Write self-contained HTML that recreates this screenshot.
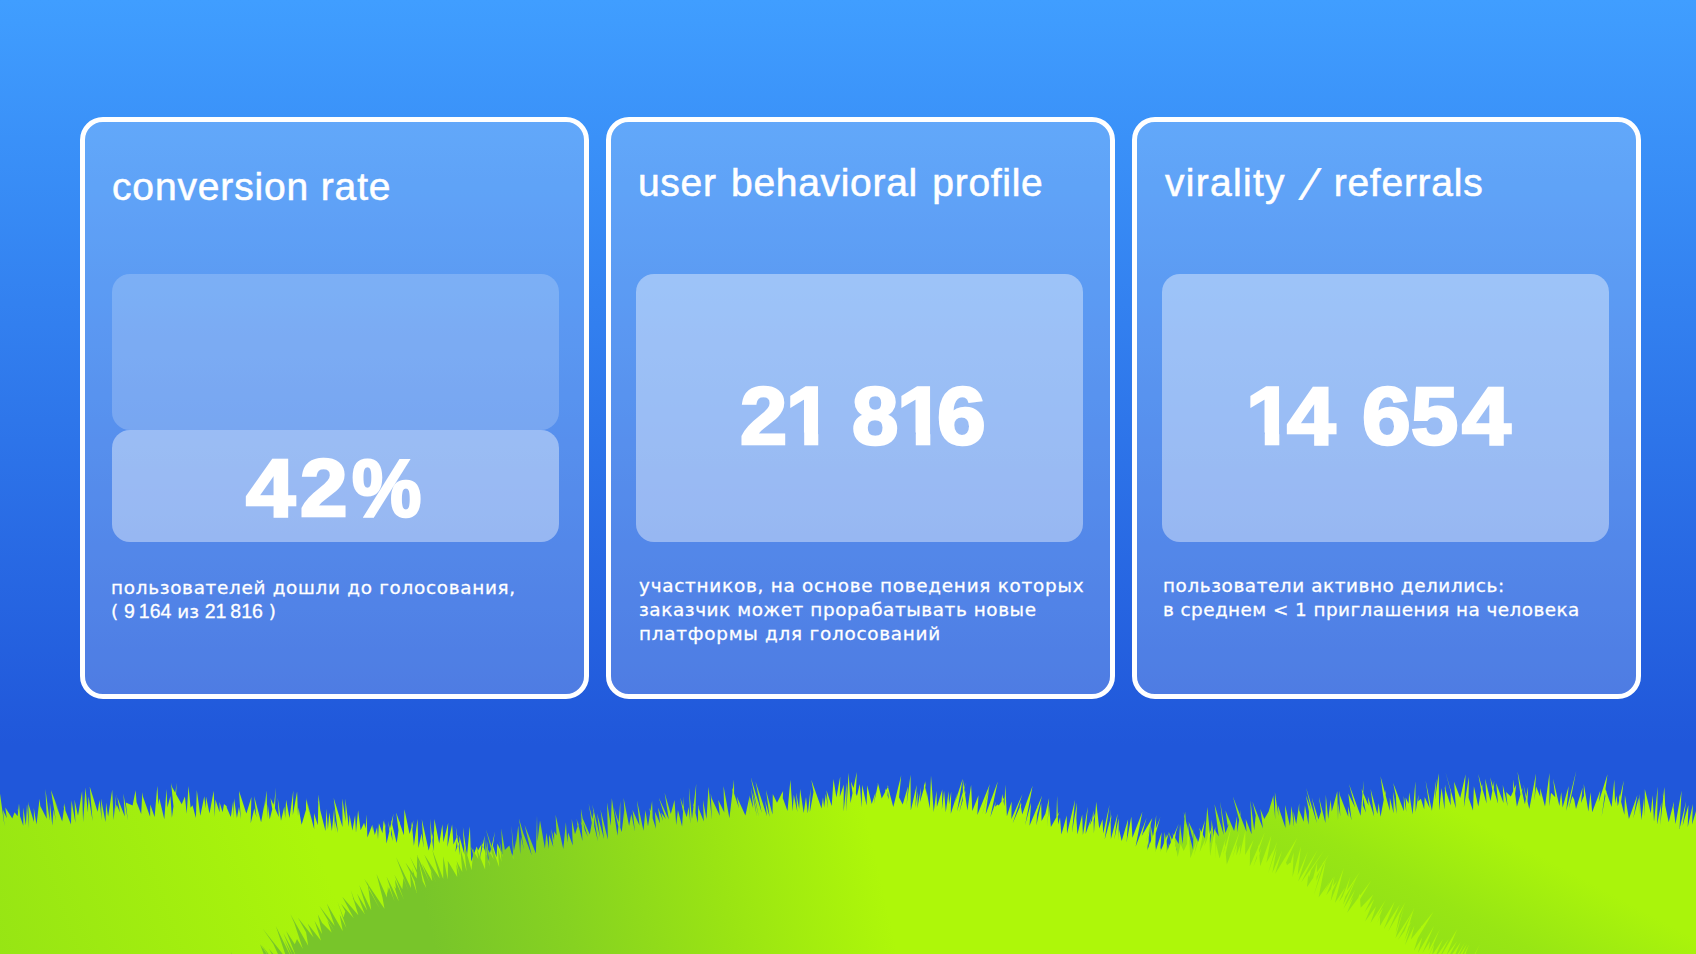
<!DOCTYPE html>
<html lang="ru">
<head>
<meta charset="utf-8">
<title>metrics</title>
<style>
html,body{margin:0;padding:0;}
body{width:1696px;height:954px;overflow:hidden;position:relative;
  background:linear-gradient(180deg,#409EFF 0px,#2057DA 745px,#2057DA 954px);
  font-family:"Liberation Sans",sans-serif;color:#fff;}
.card{position:absolute;top:117px;width:499px;height:572px;border:5px solid #fff;border-radius:23px;
  background:rgba(255,255,255,0.2);background-clip:padding-box;}
#c1{left:80px;} #c2{left:606px;} #c3{left:1132px;}
.title{position:absolute;white-space:nowrap;font-size:39px;line-height:40px;-webkit-text-stroke:0.55px #fff;}
.title .sl{display:inline-block;transform:translateY(3px) skewX(-20deg) scaleY(1.08);transform-origin:50% 70%;margin:0 5px 0 -2px;-webkit-text-stroke:0.9px #fff;}
.box{position:absolute;left:20px;top:152px;width:447px;height:268px;border-radius:18px;background:rgba(255,255,255,0.4);}
.num{position:absolute;left:0;top:0;width:447px;white-space:nowrap;font-weight:bold;font-size:78.5px;line-height:80px;
  -webkit-text-stroke:2.6px #fff;}
.num .g{position:absolute;display:block;transform-origin:0 0;}
.num .one{clip-path:polygon(0 0,30.6px 0,30.6px 80px,17.2px 80px,17.2px 56px,0 56px);}
.desc{position:absolute;white-space:nowrap;font-family:"DejaVu Sans","Liberation Sans",sans-serif;font-size:18.4px;line-height:24px;-webkit-text-stroke:0.3px #fff;}
.desc span{display:block;}
.desc .dg{display:inline;line-height:0;font-family:"Liberation Sans",sans-serif;font-size:19.5px;}
.grass{position:absolute;left:0;top:0;}
</style>
</head>
<body>
<div class="card" id="c1">
  <div class="title" style="left:27px;top:45px;letter-spacing:0.85px;">conversion rate</div>
  <div class="box" style="left:27px;height:156px;background:rgba(255,255,255,0.2);"></div>
  <div class="box" style="left:27px;top:308px;height:112px;">
    <div class="num"><span class="g" style="left:134.1px;top:16.6px;transform:scale(1.129,1.029);">4</span><span class="g" style="left:187.5px;top:16.6px;transform:scale(1.088,1.029);">2</span><span class="g" style="left:240.2px;top:16.6px;transform:scale(0.993,1.029);">%</span></div>
  </div>
  <div class="desc" style="left:26px;top:454.4px;"><span style="letter-spacing:0.7px;">пользователей дошли до голосования,</span><span style="word-spacing:0px;">( <span class="dg">9&#8201;164</span> из <span class="dg">21&#8201;816</span> )</span></div>
</div>
<div class="card" id="c2">
  <div class="title" style="left:27px;top:41px;letter-spacing:0.68px;word-spacing:3px;">user behavioral profile</div>
  <div class="box" style="left:25px;">
    <div class="num"><span class="g" style="left:103.5px;top:100.7px;transform:scale(1.080,1.029);">2</span><span class="g one" style="left:150.0px;top:100.7px;transform:scale(1.057,1.029);">1</span> <span class="g" style="left:215.8px;top:100.7px;transform:scale(1.062,1.029);">8</span><span class="g one" style="left:261.2px;top:100.7px;transform:scale(1.091,1.029);">1</span><span class="g" style="left:301.4px;top:100.7px;transform:scale(1.115,1.029);">6</span></div>
  </div>
  <div class="desc" style="left:28px;top:452px;"><span style="letter-spacing:0.747px;">участников, на основе поведения которых</span><span style="letter-spacing:0.585px;">заказчик может прорабатывать новые</span><span style="letter-spacing:0.746px;">платформы для голосований</span></div>
</div>
<div class="card" id="c3">
  <div class="title" style="left:28px;top:41px;letter-spacing:0.75px;word-spacing:5px;"><span style="letter-spacing:1.3px;">virality</span> <span class="sl">/</span> referrals</div>
  <div class="box" style="left:25px;">
    <div class="num"><span class="g one" style="left:84.3px;top:100.7px;transform:scale(1.091,1.029);">1</span><span class="g" style="left:125.1px;top:100.7px;transform:scale(1.111,1.029);">4</span> <span class="g" style="left:200.4px;top:100.7px;transform:scale(1.115,1.029);">6</span><span class="g" style="left:249.4px;top:100.7px;transform:scale(1.081,1.029);">5</span><span class="g" style="left:300.1px;top:100.7px;transform:scale(1.118,1.029);">4</span></div>
  </div>
  <div class="desc" style="left:26px;top:452px;"><span style="letter-spacing:0.583px;">пользователи активно делились:</span><span style="letter-spacing:0.436px;">в среднем &lt; 1 приглашения на человека</span></div>
</div>
<svg class="grass" width="1696" height="954" viewBox="0 0 1696 954">
<defs>
<linearGradient id="g1" gradientUnits="userSpaceOnUse" x1="0" y1="954" x2="420" y2="800"><stop offset="0" stop-color="#97E514"/><stop offset="0.75" stop-color="#ACF60A"/></linearGradient>
<linearGradient id="g2" gradientUnits="userSpaceOnUse" x1="430" y1="930" x2="870" y2="830"><stop offset="0" stop-color="#78C52A"/><stop offset="0.3" stop-color="#86D221"/><stop offset="0.65" stop-color="#9AE413"/><stop offset="1" stop-color="#AEF709"/></linearGradient>
<linearGradient id="g3" gradientUnits="userSpaceOnUse" x1="1315" y1="915" x2="1390" y2="775"><stop offset="0" stop-color="#90DF19"/><stop offset="0.45" stop-color="#98E614"/><stop offset="1" stop-color="#AAF40B"/></linearGradient>
</defs>
<polygon fill="url(#g1)" points="-20.0,832.0 -23.7,805.1 -16.2,832.3 -17.2,805.4 -14.0,829.8 -25.1,799.2 -12.5,826.0 -16.1,813.1 -7.9,826.7 -8.5,816.6 -4.1,831.5 -5.6,800.3 -1.0,827.1 -0.1,792.9 4.5,826.1 3.0,810.0 6.8,818.3 5.3,807.6 12.3,818.4 14.6,812.2 17.6,816.2 19.0,803.6 20.8,824.5 17.4,808.5 23.3,825.7 23.2,807.5 25.9,825.2 27.0,804.0 29.0,828.2 28.2,801.4 31.8,828.6 28.4,803.7 34.0,821.9 33.8,808.1 36.5,824.4 39.6,798.8 41.8,821.7 39.5,804.5 46.8,818.7 45.4,789.0 49.7,820.6 49.9,802.3 52.3,825.5 53.5,809.6 56.0,820.9 50.9,790.0 59.2,811.7 54.5,800.8 62.2,821.4 64.8,803.1 65.7,814.7 63.2,805.0 71.0,824.4 71.5,800.3 75.4,822.8 74.5,799.6 78.0,815.7 82.1,791.0 83.1,821.9 85.5,787.4 87.7,812.4 88.5,796.4 92.6,820.9 89.7,786.6 97.6,811.8 99.5,799.9 101.7,820.1 101.0,798.4 105.5,822.1 106.1,802.4 108.1,816.7 112.2,789.8 113.6,819.9 116.2,793.9 115.7,809.1 116.7,804.7 120.0,812.6 117.3,797.3 124.8,816.5 123.4,793.6 127.8,820.3 125.8,802.5 132.6,805.5 135.6,790.2 137.6,814.9 135.8,800.3 141.2,814.1 142.3,792.2 145.4,812.2 143.0,796.7 150.1,816.7 150.3,804.6 154.6,816.9 157.3,785.8 158.5,804.8 159.3,798.2 164.3,819.3 166.5,789.1 167.4,807.6 170.4,795.9 171.9,817.8 176.7,782.7 174.7,818.3 171.0,782.5 177.8,815.8 170.9,785.1 181.7,804.2 184.9,796.5 186.7,813.8 188.5,786.0 190.6,807.7 192.5,805.3 195.9,818.0 196.8,790.0 200.3,815.7 204.3,796.2 205.6,808.4 206.0,796.4 209.5,813.5 213.7,790.7 214.8,817.1 215.4,799.5 219.6,812.3 219.5,802.0 222.6,812.3 224.0,804.0 226.7,806.3 226.7,807.6 230.8,816.9 233.2,801.1 234.0,818.4 234.0,798.2 236.9,818.0 239.0,806.8 240.8,819.1 239.0,791.0 246.4,813.4 251.4,797.1 250.7,823.3 254.3,808.5 256.5,817.6 254.1,796.1 261.1,822.2 265.0,800.7 264.5,809.6 266.5,790.4 267.4,818.5 267.8,804.5 269.7,819.3 274.2,801.6 273.4,810.4 275.9,787.7 274.3,822.1 270.5,797.9 278.8,817.1 277.7,797.8 281.0,820.8 284.3,806.6 285.2,818.0 286.1,799.7 289.5,818.1 293.3,790.5 292.8,815.3 297.1,791.6 298.0,815.9 298.5,807.6 301.6,824.7 306.3,808.8 305.8,825.1 306.1,799.3 311.0,819.6 305.7,796.3 314.2,829.2 314.0,813.1 317.8,825.2 318.5,794.5 321.4,820.5 317.7,800.3 325.5,831.0 326.4,808.8 327.9,829.5 329.3,812.4 331.9,830.9 334.1,808.7 335.1,832.3 335.0,820.8 338.0,833.0 333.7,798.1 342.5,827.0 342.4,798.5 345.7,821.8 345.3,798.4 348.8,827.0 349.5,814.6 352.4,830.5 355.1,815.2 356.0,832.7 358.1,810.3 360.6,830.2 364.1,822.7 365.6,828.5 366.6,814.6 367.4,837.4 372.3,824.7 373.2,831.9 373.0,826.8 374.8,835.0 377.1,827.2 378.0,839.3 378.9,823.2 382.5,833.3 383.6,820.5 385.7,828.8 384.4,818.5 386.5,843.5 393.5,813.6 390.4,839.8 388.1,820.9 392.6,841.0 391.0,819.4 396.7,843.1 400.0,820.0 399.7,839.9 396.2,812.5 403.9,835.2 404.4,809.3 409.6,834.1 413.4,820.3 410.9,843.6 411.6,821.6 413.9,845.7 417.5,819.1 418.4,848.0 421.6,833.5 423.7,847.7 421.8,819.2 428.7,850.4 433.6,830.7 431.2,849.8 430.1,818.7 433.5,851.3 434.4,819.1 439.2,843.4 442.4,824.2 443.4,842.2 448.2,822.7 447.4,847.0 452.1,824.4 453.5,844.6 457.7,834.8 455.4,852.0 459.6,839.8 457.9,853.6 455.8,826.6 460.0,855.2 459.3,835.7 464.4,854.5 462.9,826.9 467.0,855.7 469.7,826.8 471.3,849.4 469.7,825.1 471.2,861.6 476.7,846.5 478.0,850.4 481.5,844.2 479.9,858.7 484.7,835.5 483.4,853.7 481.7,842.1 486.1,853.7 487.4,841.1 487.4,864.7 495.0,831.4 490.3,861.9 493.0,846.0 496.5,857.3 497.4,843.5 502.6,855.0 503.1,846.8 503.2,870.0 505.3,854.8 506.4,870.2 509.0,851.6 508.9,872.9 512.9,853.3 518.1,861.4 521.0,857.0 522.1,862.6 522.7,851.8 522.8,873.1 523.4,857.4 529.0,866.1 528.6,849.5 534.7,866.2 535.1,859.6 533.3,877.4 535.0,862.3 538.7,877.3 540.4,862.7 539.5,881.4 540.0,960.0 -20.0,960.0"/>
<polygon fill="url(#g3)" points="1120.0,872.0 1113.1,837.3 1123.6,867.7 1124.2,838.3 1128.2,870.5 1125.7,844.7 1129.6,868.3 1126.8,834.7 1134.1,869.6 1130.3,838.0 1138.9,867.6 1139.8,836.8 1144.7,867.3 1141.5,850.2 1148.2,864.2 1141.5,825.9 1151.8,865.0 1145.8,825.4 1152.5,859.5 1149.9,822.4 1158.8,861.5 1155.9,837.1 1157.3,847.9 1158.7,845.7 1163.1,852.3 1164.6,832.1 1169.0,856.2 1168.7,843.5 1173.2,853.3 1168.7,831.7 1176.9,851.6 1172.4,833.0 1178.7,844.0 1180.0,824.3 1182.6,843.9 1185.1,811.5 1188.2,848.3 1183.7,812.0 1193.1,850.1 1193.4,827.6 1192.7,839.1 1188.4,821.4 1199.5,844.7 1200.0,828.6 1202.8,842.2 1199.0,827.6 1204.9,838.5 1207.3,807.0 1210.9,843.5 1211.6,819.4 1214.4,841.0 1214.2,828.9 1218.8,836.4 1214.5,804.2 1223.8,835.0 1220.1,801.6 1225.5,833.0 1229.0,823.4 1227.7,826.0 1225.4,810.6 1234.1,831.1 1237.0,816.4 1237.2,832.2 1240.8,809.8 1239.9,822.8 1232.9,796.4 1246.5,831.7 1245.7,819.0 1251.6,834.2 1250.4,800.3 1254.2,830.2 1256.1,811.9 1260.3,834.0 1252.4,801.4 1263.0,828.5 1260.4,808.9 1264.3,819.1 1268.7,811.5 1267.0,817.0 1273.5,795.3 1272.3,826.2 1273.4,796.8 1275.2,819.5 1274.9,792.1 1278.5,816.1 1277.8,804.9 1285.5,828.1 1285.1,805.1 1290.0,826.0 1291.5,806.0 1294.1,827.4 1293.5,811.5 1296.2,824.0 1299.2,803.3 1299.2,824.2 1298.9,809.4 1303.7,821.8 1304.9,805.2 1308.5,824.7 1309.1,808.0 1309.8,815.9 1305.8,795.3 1311.1,809.7 1306.2,787.9 1316.9,822.9 1311.8,797.8 1318.5,819.5 1322.0,808.5 1321.4,813.9 1318.9,796.8 1325.4,823.1 1325.8,794.7 1328.2,819.1 1330.6,799.8 1331.8,811.5 1337.3,791.3 1338.0,820.7 1338.3,803.1 1340.3,816.4 1339.2,790.5 1342.6,811.1 1340.0,795.4 1348.3,816.7 1347.9,806.0 1351.6,820.4 1348.3,793.4 1355.1,807.4 1349.0,783.9 1360.6,815.8 1363.6,780.4 1362.7,813.3 1361.5,802.1 1366.0,812.8 1361.6,789.0 1368.5,805.4 1367.8,796.3 1374.2,816.8 1370.6,788.9 1377.4,813.9 1378.6,803.0 1380.5,816.8 1385.6,789.9 1385.9,815.4 1380.5,776.3 1389.8,810.8 1389.8,797.4 1393.6,813.2 1393.2,791.4 1396.7,814.1 1395.8,792.4 1399.5,813.2 1393.2,782.9 1403.9,811.2 1403.8,795.9 1406.2,811.7 1405.7,797.5 1408.6,803.7 1409.1,792.2 1412.6,814.5 1415.4,781.2 1415.6,811.9 1418.5,794.6 1418.2,801.3 1420.9,798.8 1424.2,809.3 1424.7,797.0 1429.6,808.1 1425.6,780.5 1431.9,810.8 1436.4,778.6 1435.0,799.7 1438.7,773.2 1439.1,810.6 1441.6,787.9 1444.5,809.4 1445.1,784.6 1447.7,807.0 1444.5,786.6 1450.7,805.5 1450.6,788.7 1452.8,799.7 1445.6,772.5 1455.9,808.3 1454.1,781.8 1460.2,798.1 1465.6,774.2 1463.9,807.3 1468.9,776.8 1468.4,806.8 1467.1,793.5 1473.0,810.6 1473.9,786.2 1478.3,806.5 1482.2,784.0 1483.6,803.8 1478.2,773.9 1486.6,803.6 1485.2,778.7 1490.5,801.0 1494.2,780.4 1493.4,797.3 1490.2,777.2 1498.1,803.8 1496.1,783.0 1503.5,803.1 1502.8,785.1 1507.6,806.3 1506.1,792.0 1510.8,796.4 1516.3,784.3 1513.2,809.0 1513.2,779.6 1516.9,806.8 1522.4,787.7 1521.3,801.9 1517.5,771.4 1524.9,804.2 1528.1,786.6 1527.3,806.7 1523.3,784.0 1529.3,808.9 1536.0,773.6 1534.4,800.5 1536.1,786.5 1540.2,796.7 1540.2,788.3 1545.0,806.5 1549.5,772.9 1549.4,806.2 1551.0,792.7 1555.3,797.3 1553.1,778.8 1559.4,805.9 1561.2,792.1 1562.6,807.4 1568.7,786.1 1566.3,810.8 1576.2,770.9 1568.8,808.6 1572.4,796.0 1574.2,799.7 1571.2,784.1 1576.0,809.0 1582.6,787.4 1581.0,802.9 1585.3,792.4 1584.1,810.3 1583.8,784.1 1588.4,811.6 1590.5,792.2 1592.2,812.2 1600.3,790.4 1598.7,802.3 1607.5,774.3 1601.7,816.2 1606.5,789.9 1606.7,807.4 1604.0,784.9 1611.6,807.1 1614.3,779.5 1615.1,803.5 1616.5,795.5 1617.8,806.2 1623.8,780.5 1619.0,817.9 1619.1,794.0 1624.4,814.8 1624.9,795.0 1628.9,819.0 1637.4,794.9 1633.3,818.2 1638.7,797.8 1639.1,814.8 1639.2,793.7 1641.5,820.0 1644.0,797.9 1644.8,816.5 1644.8,789.0 1650.8,813.2 1652.6,794.9 1654.0,821.8 1657.7,786.5 1657.1,824.6 1661.4,802.3 1660.3,824.8 1664.3,787.1 1665.6,813.6 1662.6,792.9 1668.7,822.2 1674.0,801.5 1672.3,822.7 1673.1,803.8 1675.5,824.1 1681.6,790.5 1679.5,829.0 1686.2,801.0 1682.6,825.8 1688.4,805.0 1687.7,827.2 1692.9,803.9 1692.1,824.5 1698.2,803.5 1697.5,826.0 1702.3,803.2 1697.7,834.3 1700.9,815.7 1704.2,820.2 1709.2,800.8 1703.2,834.4 1707.9,812.5 1707.6,835.9 1711.7,812.3 1713.4,835.1 1718.2,801.1 1715.7,835.9 1717.2,815.7 1720.8,825.9 1720.8,824.6 1719.9,836.2 1720.0,960.0 1120.0,960.0"/>
<polygon fill="url(#g2)" points="215.0,1005.0 204.8,985.8 215.1,995.7 213.0,974.6 220.7,998.0 210.6,969.3 224.8,999.7 220.1,980.6 227.7,1000.5 218.1,983.4 229.8,999.7 221.2,971.3 226.7,988.8 212.5,962.1 228.6,984.7 221.4,968.6 236.8,991.5 228.3,972.3 238.5,990.0 228.9,971.7 240.2,987.5 234.6,972.7 238.6,976.1 231.1,952.1 247.9,983.2 236.4,956.4 253.2,983.7 246.2,970.6 249.3,973.3 250.0,965.4 260.2,981.2 252.3,954.8 258.7,969.4 255.1,956.9 266.1,977.0 259.5,956.5 266.3,969.2 263.2,947.1 265.7,959.6 260.0,944.2 275.9,966.7 261.1,944.4 279.4,967.8 268.9,948.8 283.6,966.2 272.6,942.5 286.6,963.4 262.8,928.7 287.0,959.4 275.8,925.9 292.2,959.5 284.0,939.2 292.7,955.7 283.3,933.1 295.7,955.8 286.2,931.0 294.8,944.2 297.0,938.9 302.9,949.0 292.8,918.4 306.1,950.1 290.3,914.1 308.2,945.8 305.4,927.7 313.9,946.3 297.8,917.4 313.6,937.5 307.6,923.4 321.1,940.8 314.5,920.7 322.1,934.1 317.8,914.2 329.8,938.4 321.2,922.1 331.6,932.5 327.3,920.3 334.4,931.1 319.4,905.9 334.8,926.0 326.8,903.5 342.8,931.2 339.6,914.6 346.4,928.0 337.1,900.8 343.5,917.5 345.7,909.9 352.9,925.4 341.1,903.7 353.8,918.2 342.3,896.8 358.4,915.2 350.7,890.1 358.7,911.3 352.5,897.6 364.7,914.0 357.0,893.5 367.2,910.6 359.2,885.1 371.2,910.2 367.4,880.7 372.4,905.5 368.2,888.1 379.9,908.9 364.1,878.4 384.5,908.8 380.4,886.2 383.6,902.1 376.5,873.9 386.9,897.4 387.2,884.0 387.4,893.7 388.9,887.0 394.5,901.3 386.5,876.4 398.9,901.5 394.2,886.3 396.1,889.1 394.9,879.5 403.8,899.3 394.3,874.6 402.3,889.3 403.4,878.1 408.9,892.1 396.0,857.1 411.1,888.3 409.9,871.9 416.8,893.1 412.1,867.7 419.9,892.0 405.4,862.6 416.7,878.6 417.3,854.5 424.7,890.9 409.8,856.6 426.3,888.3 417.0,854.9 429.7,882.8 421.8,863.3 432.3,881.2 430.8,870.8 436.5,883.5 424.2,854.6 439.7,878.5 431.9,848.7 443.2,879.1 443.2,856.2 447.7,879.5 448.1,861.8 448.0,865.5 447.7,860.8 457.2,877.1 456.4,864.0 459.6,875.8 456.6,861.1 462.3,872.1 460.3,847.9 466.6,871.6 463.7,842.5 471.6,870.2 473.4,848.0 474.4,859.2 471.0,847.0 478.3,858.9 476.3,847.6 485.1,869.5 485.3,838.9 487.7,866.6 485.5,850.3 489.8,866.6 485.9,838.9 489.2,856.3 486.2,846.2 493.6,859.3 485.9,829.4 499.2,867.2 497.7,847.2 501.5,861.9 499.6,840.7 502.7,857.2 501.2,828.3 504.9,850.1 509.3,845.4 513.3,859.0 511.4,825.4 513.9,850.9 516.3,838.9 515.4,847.7 518.3,825.5 520.2,853.9 520.9,836.6 523.9,849.8 518.9,818.2 529.0,853.1 523.0,832.6 531.8,855.4 524.5,824.8 535.9,853.4 537.0,815.3 537.5,841.5 540.0,820.4 544.9,848.5 546.4,832.8 549.0,849.0 549.0,834.6 553.3,846.9 551.2,828.7 554.1,840.4 554.2,831.3 556.6,835.6 555.6,814.8 563.3,849.0 565.9,822.3 567.3,842.8 568.1,832.6 572.8,845.4 571.7,818.9 575.0,834.2 579.0,822.2 577.9,830.3 576.6,818.4 582.5,841.1 580.9,808.4 586.8,841.6 580.4,821.1 588.0,837.1 580.8,814.2 589.8,834.4 594.0,809.7 594.3,837.9 588.6,803.6 597.9,841.3 592.3,804.5 600.1,837.6 597.0,813.3 604.1,839.3 600.5,809.4 607.9,839.4 607.1,802.4 610.8,825.7 611.8,798.2 617.5,835.8 620.3,801.1 620.3,835.7 614.0,807.6 621.7,832.0 624.2,810.6 625.6,833.8 623.6,798.0 629.1,826.0 631.3,813.9 635.0,831.7 632.6,809.9 639.5,825.6 637.0,800.6 643.5,830.7 645.4,810.3 648.0,826.4 652.1,801.1 653.1,831.2 649.3,807.6 656.0,828.8 654.9,811.4 660.1,823.4 658.0,807.4 663.1,821.1 661.2,812.6 665.8,819.1 658.7,797.4 668.8,819.6 664.6,792.7 670.8,814.1 674.5,799.9 676.2,824.9 677.9,809.9 682.1,826.6 684.0,796.1 683.9,816.0 680.2,797.4 686.7,817.2 688.6,806.9 690.4,823.7 688.9,787.0 692.0,818.9 696.2,783.8 695.3,818.9 692.8,802.0 697.9,822.8 698.1,804.4 700.7,820.1 697.8,806.1 703.8,821.4 703.0,799.9 706.5,819.1 708.5,786.7 711.8,819.8 710.8,793.4 715.3,819.7 711.2,797.3 719.8,815.7 718.3,800.0 724.3,812.6 723.5,786.0 729.4,818.3 734.0,779.5 734.3,815.6 732.2,787.8 739.1,808.4 736.8,796.5 745.4,815.4 749.8,795.3 750.0,817.6 750.0,797.3 753.2,808.3 751.1,787.8 756.8,816.0 753.0,792.1 758.9,816.7 750.8,777.2 761.8,812.9 755.5,781.4 767.0,816.2 765.1,800.3 769.6,817.1 766.0,790.1 772.5,814.4 772.8,794.1 777.0,802.7 783.1,790.9 782.3,811.3 781.1,793.3 787.5,811.0 790.4,779.8 792.6,811.2 793.8,794.7 797.3,811.9 796.1,792.6 799.2,809.1 800.1,789.1 803.7,813.1 806.0,796.9 807.8,813.5 810.6,788.6 809.8,812.5 813.7,790.7 814.3,808.1 813.4,791.4 816.3,807.2 811.3,779.7 821.5,808.5 823.0,797.3 824.1,807.5 825.8,793.9 828.1,808.8 826.5,790.2 831.7,805.9 833.5,779.0 836.4,797.6 840.2,776.4 839.8,796.7 843.8,784.5 843.6,811.7 846.7,782.3 846.3,811.9 848.6,772.7 850.5,803.1 856.8,772.0 855.0,811.4 850.9,781.6 856.9,796.1 859.8,783.9 861.6,807.5 862.2,784.7 866.6,805.6 867.2,785.2 871.7,804.1 875.6,792.3 873.7,804.5 877.9,784.4 878.2,802.5 877.8,782.6 881.7,798.6 888.3,785.9 886.3,808.2 885.0,788.2 888.9,799.5 887.3,784.5 893.3,807.1 901.2,775.3 898.3,804.8 898.4,795.9 902.7,804.6 908.0,786.6 906.6,805.1 910.5,774.8 910.8,810.4 916.7,785.0 915.3,807.9 917.8,791.1 917.4,808.3 921.1,787.1 919.9,802.2 926.1,780.8 922.4,811.4 924.2,782.2 927.1,796.6 926.2,788.8 929.8,808.4 931.0,775.4 933.7,812.0 936.5,790.7 936.9,806.9 942.3,789.5 941.9,809.5 944.1,790.7 945.8,812.3 948.6,791.3 949.0,804.4 951.2,791.4 950.8,813.7 957.7,792.0 954.7,803.6 962.8,778.5 957.0,811.5 965.8,782.3 959.4,812.1 965.7,790.2 962.7,811.6 962.9,779.5 967.4,810.4 971.1,784.8 972.3,811.1 978.5,795.3 977.3,814.9 989.9,784.1 982.0,815.9 989.1,788.6 985.6,814.4 997.8,781.6 990.3,817.2 995.9,801.5 995.0,806.7 997.6,804.4 998.7,805.6 1004.4,797.3 999.5,817.6 1002.3,794.0 1004.4,806.2 1005.3,784.6 1006.9,816.2 1011.6,801.4 1011.4,818.9 1022.5,793.9 1012.6,823.4 1021.5,803.2 1018.1,822.1 1020.2,801.9 1022.2,814.5 1032.6,785.8 1025.1,825.2 1031.1,802.6 1029.5,825.8 1042.1,795.5 1034.8,823.0 1037.7,804.3 1036.4,825.6 1041.2,802.7 1041.6,820.9 1047.6,809.4 1042.6,825.6 1049.1,798.0 1047.3,826.2 1049.0,805.4 1050.9,827.0 1059.6,811.5 1056.3,820.7 1057.1,795.8 1058.1,824.6 1060.0,817.5 1061.4,834.4 1066.7,815.5 1067.0,833.8 1075.1,799.8 1071.9,832.9 1077.0,802.5 1075.8,832.1 1075.8,809.0 1077.4,834.5 1082.2,814.6 1082.9,834.9 1087.8,806.7 1085.6,834.0 1091.7,816.8 1089.6,825.6 1095.4,813.1 1089.7,837.4 1093.4,810.6 1093.9,833.4 1096.2,801.8 1099.2,828.6 1102.5,819.2 1103.2,833.4 1109.5,804.7 1104.7,839.4 1111.6,814.7 1109.8,829.8 1110.5,809.1 1110.9,838.9 1117.7,813.4 1114.3,839.4 1118.7,818.3 1118.6,840.5 1119.0,829.2 1121.7,840.9 1128.1,819.3 1126.6,842.4 1131.3,816.4 1132.4,837.8 1142.4,811.8 1135.6,846.8 1146.6,817.8 1141.7,835.9 1152.3,817.9 1144.1,848.5 1150.1,826.7 1147.0,851.1 1160.4,817.0 1151.4,848.2 1156.2,815.1 1155.2,852.5 1161.6,832.2 1160.1,851.9 1169.1,832.1 1163.3,852.4 1166.7,834.0 1166.2,853.2 1178.7,823.7 1170.8,848.3 1176.1,831.2 1172.6,853.5 1174.6,840.1 1177.7,857.1 1180.6,844.1 1183.7,850.9 1190.7,835.9 1186.9,847.9 1188.0,823.1 1190.4,858.2 1197.6,838.3 1193.9,855.5 1205.0,820.3 1199.7,852.0 1205.7,838.2 1204.3,846.2 1212.8,825.5 1206.2,849.7 1208.7,827.1 1210.1,856.0 1215.3,826.6 1215.0,859.4 1215.7,842.3 1219.6,858.6 1225.8,837.9 1223.2,853.9 1231.6,825.5 1224.3,860.2 1224.6,841.7 1226.8,864.5 1239.6,831.7 1232.4,857.8 1237.1,844.0 1236.4,855.4 1240.4,844.8 1239.7,855.8 1245.4,830.3 1245.1,855.1 1253.6,839.7 1245.8,863.1 1250.1,844.9 1249.8,866.2 1264.9,831.9 1253.3,866.4 1261.4,848.1 1256.1,866.8 1258.4,844.0 1260.2,866.3 1271.3,835.4 1266.4,862.8 1274.1,849.0 1268.5,863.7 1277.2,841.4 1268.1,873.6 1276.7,848.3 1272.3,872.9 1282.1,850.5 1275.1,873.9 1297.4,837.6 1279.5,876.9 1284.6,858.1 1287.0,865.2 1293.0,860.2 1285.5,880.1 1293.7,852.3 1292.5,876.9 1300.9,846.5 1297.6,875.3 1308.0,851.0 1298.1,881.5 1317.4,850.3 1301.1,882.4 1324.1,850.3 1303.3,882.6 1311.9,868.1 1308.9,877.5 1308.3,874.4 1306.9,887.3 1328.9,854.4 1310.9,887.0 1317.2,862.0 1316.5,881.1 1324.1,859.5 1313.7,895.4 1325.8,860.2 1318.6,897.6 1329.5,882.2 1323.3,893.6 1333.8,876.4 1326.2,895.3 1337.2,880.8 1327.2,901.6 1334.6,876.3 1330.7,901.2 1343.8,868.0 1334.9,903.1 1345.1,887.6 1339.0,901.8 1360.2,871.4 1338.0,908.8 1350.4,876.4 1343.1,904.8 1357.1,876.3 1343.4,909.0 1355.3,889.6 1348.9,904.3 1353.5,896.5 1347.0,912.9 1371.2,880.4 1355.0,907.7 1359.7,893.4 1360.7,907.7 1373.1,894.7 1364.4,912.4 1374.2,899.1 1365.0,921.6 1376.1,906.3 1370.5,923.1 1385.8,899.7 1376.8,916.8 1383.0,907.7 1376.7,924.1 1380.1,916.3 1379.9,925.9 1394.7,901.6 1383.7,929.2 1399.8,904.5 1388.3,931.2 1405.4,901.9 1391.9,932.0 1400.1,911.7 1395.5,933.8 1404.3,905.9 1395.4,938.3 1413.3,910.6 1397.9,939.9 1411.5,921.5 1399.5,943.1 1414.3,907.5 1404.3,941.1 1410.8,925.4 1404.9,945.2 1414.4,925.7 1410.9,939.6 1433.6,911.5 1412.1,947.7 1422.0,924.4 1413.8,950.9 1422.3,937.2 1417.9,953.1 1434.0,926.0 1422.3,953.3 1430.1,941.3 1428.4,950.7 1439.9,928.9 1427.6,958.3 1434.1,944.6 1432.1,955.2 1443.0,939.1 1434.0,959.6 1448.7,939.0 1436.6,963.3 1457.3,929.1 1446.3,955.4 1457.4,940.8 1442.2,968.5 1460.7,942.0 1450.1,966.3 1464.9,942.4 1455.1,962.2 1467.0,944.0 1454.0,972.7 1469.1,944.6 1460.8,966.2 1466.5,948.8 1464.3,965.6 1475.2,956.8 1460.9,979.5 1479.9,944.3 1464.1,978.2 1481.1,956.5 1466.0,980.1 1482.7,954.7 1467.6,984.5 1485.9,961.8 1472.2,984.9 1479.5,972.0 1476.3,985.6 1488.5,966.0 1482.0,982.7 1480.0,1010.0 215.0,1010.0"/>
</svg>
</body>
</html>
